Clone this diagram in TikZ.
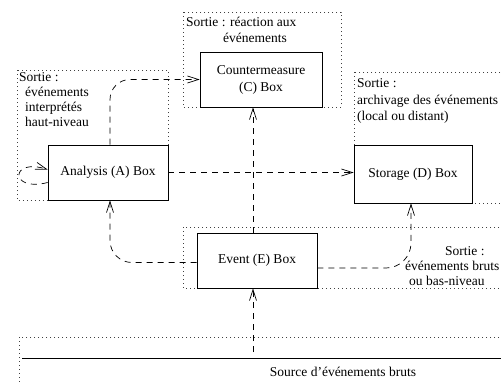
\documentclass[tikz,border=0pt]{standalone}
\usepackage{fontspec}
\setmainfont{Liberation Serif}
\usetikzlibrary{arrows.meta,calc}
\begin{document}
\begin{tikzpicture}[x=1pt,y=-1pt,
  every node/.style={font=\fontsize{13.5}{17}\selectfont},
  box/.style={draw, line width=0.8pt, fill=white, inner sep=0pt, align=center},
  region/.style={draw=black!75, line width=0.7pt, dash pattern=on 0.7pt off 3.3pt},
  flow/.style={draw, line width=0.7pt, dash pattern=on 6pt off 5pt, -{Straight Barb[length=11pt,width=7pt]}},
  lbl/.style={anchor=base west, inner sep=0pt},
]
\useasboundingbox (0,0) rectangle (501,383);
% dotted output regions
\draw[region] (183,12) rectangle (341,107);
\draw[region] (17,70) rectangle (168,200);
\draw[region] (354,72) rectangle (520,203);
\draw[region] (183,227) rectangle (520,288);
\draw[region] (19,337) rectangle (520,400);
% boxes
\node[box, minimum width=120pt, minimum height=55pt] (A) at (108,172.5) {Analysis (A) Box};
\node[box, minimum width=122pt, minimum height=55pt] (C) at (261,79.5) {Countermeasure\\(C) Box};
\node[box, minimum width=118pt, minimum height=58pt] (D) at (413,174) {Storage (D) Box};
\node[box, minimum width=120pt, minimum height=55pt] (E) at (257,260.5) {Event (E) Box};
% source line
\coordinate (srcL) at (22,358);
\coordinate (srcR) at (501,358);
\coordinate (srcup) at (253,352);
\draw[line width=0.8pt] (srcL) -- (srcR);
\node[anchor=base] (srctext) at (343,376) {Source d’événements bruts};
% connectors
\draw[flow] (srcup) -- (srcup |- E.south);
\draw[flow] ([xshift=-4pt]E.north) -- ([xshift=-4pt]E.north |- C.south);
\draw[flow] (A.east) -- (A.east -| D.west);
\draw[flow, rounded corners=20pt] ([xshift=2pt]A.north) |- (C.west);
\draw[flow, rounded corners=22pt] ([yshift=-2pt]E.west) -| ([xshift=2pt]A.south);
\draw[flow, rounded corners=25pt] ([yshift=-7.5pt]E.east) -| ([xshift=-2pt]D.south);
\draw[flow] ([yshift=-10pt]A.west) .. controls +(-38,10) and +(-38,-12) .. ([yshift=3pt]A.west);
% labels
\node[lbl] (lc1) at (186,26) {Sortie : réaction aux};
\node[lbl] (lc2) at (223,42) {événements};
\node[lbl] (la1) at (19,81) {Sortie :};
\node[lbl] (la2) at (25,96) {événements};
\node[lbl] (la3) at (25,111) {interprétés};
\node[lbl] (la4) at (25,126) {haut-niveau};
\node[lbl] (ld1) at (357,87) {Sortie :};
\node[lbl] (ld2) at (357,104) {archivage des événements};
\node[lbl] (ld3) at (357,120) {(local ou distant)};
\node[lbl] (le1) at (445,255) {Sortie :};
\node[lbl] (le2) at (405,270) {événements bruts};
\node[lbl] (le3) at (409,285) {ou bas-niveau};
\end{tikzpicture}
\end{document}
